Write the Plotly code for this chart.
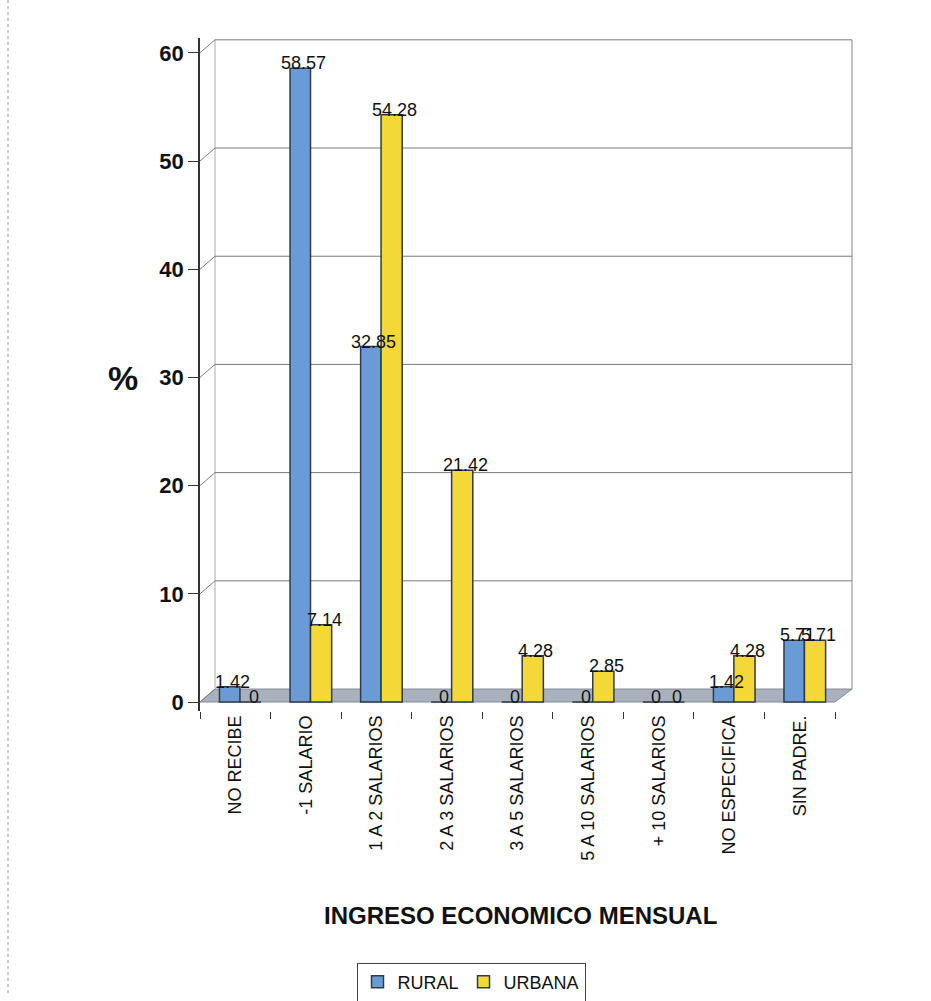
import plotly.graph_objects as go

categories = ["NO RECIBE", "-1 SALARIO", "1 A 2 SALARIOS", "2 A 3 SALARIOS", "3 A 5 SALARIOS",
              "5 A 10 SALARIOS", "+ 10 SALARIOS", "NO ESPECIFICA", "SIN PADRE."]
rural = [1.42, 58.57, 32.85, 0, 0, 0, 0, 1.42, 5.71]
urbana = [0, 7.14, 54.28, 21.42, 4.28, 2.85, 0, 4.28, 5.71]
y_ticks = [0, 10, 20, 30, 40, 50, 60]

W, H = 931, 1001
L, R, T, B = 200, 79, 38, 290  # plot spans x 200..852, y 38..711
PW, PH = W - L - R, H - T - B
K = 10.82                       # px per y unit
ZERO_PIX = 702
YMIN, YMAX = -(H - B - ZERO_PIX) / K, (ZERO_PIX - T) / K
DEPTH = 1.2      # back wall offset in y units
DX = 15 / PW     # back wall offset in paper x
XMAX = 8.74
CAT_PX = PW / (XMAX + 0.5)

R_OFF, R_W = -0.224, 0.29
U_OFF, U_W = 0.066, 0.30


def px(xpix):
    return (xpix - L) / PW


def py(ypix):
    return (H - B - ypix) / PH


fig = go.Figure()
fig.add_trace(go.Bar(name="RURAL", x=categories, y=rural, offset=R_OFF, width=R_W,
                     marker=dict(color="#6b9bd6", line=dict(color="#2f3b45", width=1.5))))
fig.add_trace(go.Bar(name="URBANA", x=categories, y=urbana, offset=U_OFF, width=U_W,
                     marker=dict(color="#f4d838", line=dict(color="#2f3b45", width=1.5))))

annotations = []
for series, off, wd in ((rural, R_OFF, R_W), (urbana, U_OFF, U_W)):
    for c, v in zip(categories, series):
        annotations.append(dict(x=c, y=v, xref="x", yref="y", text=f"{v:g}", showarrow=False,
                                xanchor="center", yanchor="middle",
                                xshift=(off + wd / 2) * CAT_PX + 3, yshift=5,
                                font=dict(family="Arial", size=18, color="#111")))

annotations += [
    dict(text="<b>%</b>", xref="paper", yref="paper", x=px(123), y=py(378),
         xanchor="center", yanchor="middle",
         showarrow=False, font=dict(family="Arial", size=34, color="#111")),
    dict(text="<b>INGRESO ECONOMICO MENSUAL</b>", xref="paper", yref="paper",
         x=px(520), y=py(915), xanchor="center", yanchor="middle", showarrow=False,
         font=dict(family="Arial", size=24, color="#111")),
]

shapes = [
    # floor
    dict(type="path", xref="paper", yref="y", layer="below",
         path=f"M 0 0 L {DX} {DEPTH} L 1 {DEPTH} L {1 - 17 / PW} 0 Z",
         fillcolor="#a9b1bd", line=dict(color="#858b95", width=1)),
    # back wall edges
    dict(type="line", xref="paper", yref="y", x0=1, x1=1, y0=DEPTH, y1=60 + DEPTH,
         line=dict(color="#888", width=1), layer="below"),
    dict(type="line", xref="paper", yref="y", x0=DX, x1=DX, y0=DEPTH, y1=60 + DEPTH,
         line=dict(color="#aaa", width=1), layer="below"),
    # page edge line
    dict(type="line", xref="paper", yref="paper", x0=px(8), x1=px(8),
         y0=py(0), y1=py(995), line=dict(color="#999", width=1, dash="dot")),
]
for v in y_ticks:
    if v > 0:
        shapes.append(dict(type="line", xref="paper", yref="y", x0=DX, x1=1,
                           y0=v + DEPTH, y1=v + DEPTH, line=dict(color="#7a7a7a", width=1),
                           layer="below"))
    shapes.append(dict(type="line", xref="paper", yref="y", x0=0, x1=DX,
                       y0=v, y1=v + DEPTH, line=dict(color="#7a7a7a", width=1), layer="below"))

fig.update_layout(
    width=W, height=H, template="none",
    margin=dict(l=L, r=R, t=T, b=B, pad=0, autoexpand=False),
    paper_bgcolor="white", plot_bgcolor="white",
    barmode="group",
    font=dict(family="Arial", color="#111"),
    showlegend=True,
    legend=dict(orientation="h", xref="container", yref="container",
                x=471 / W, y=1 - 982 / H, xanchor="center", yanchor="middle",
                bordercolor="#444", borderwidth=1, bgcolor="white",
                font=dict(family="Arial", size=18, color="#111"),
                itemwidth=30, tracegroupgap=0),
    shapes=shapes,
    annotations=annotations,
)

fig.update_xaxes(type="category", range=[-0.5, XMAX], tickson="boundaries", automargin=False,
                 ticks="outside", ticklen=7, tickcolor="#333", tickangle=-90,
                 tickfont=dict(family="Arial", size=18, color="#111"),
                 showline=False, showgrid=False, zeroline=False)
fig.update_yaxes(range=[YMIN, YMAX], tickvals=y_ticks, ticktext=[f"<b>{v}</b>" for v in y_ticks],
                 automargin=False, ticks="outside", ticklen=10, tickcolor="#333",
                 tickfont=dict(family="Arial", size=22, color="#111"),
                 showline=True, linecolor="#333", linewidth=1.5,
                 showgrid=False, zeroline=False)

fig.write_html("out.html")
